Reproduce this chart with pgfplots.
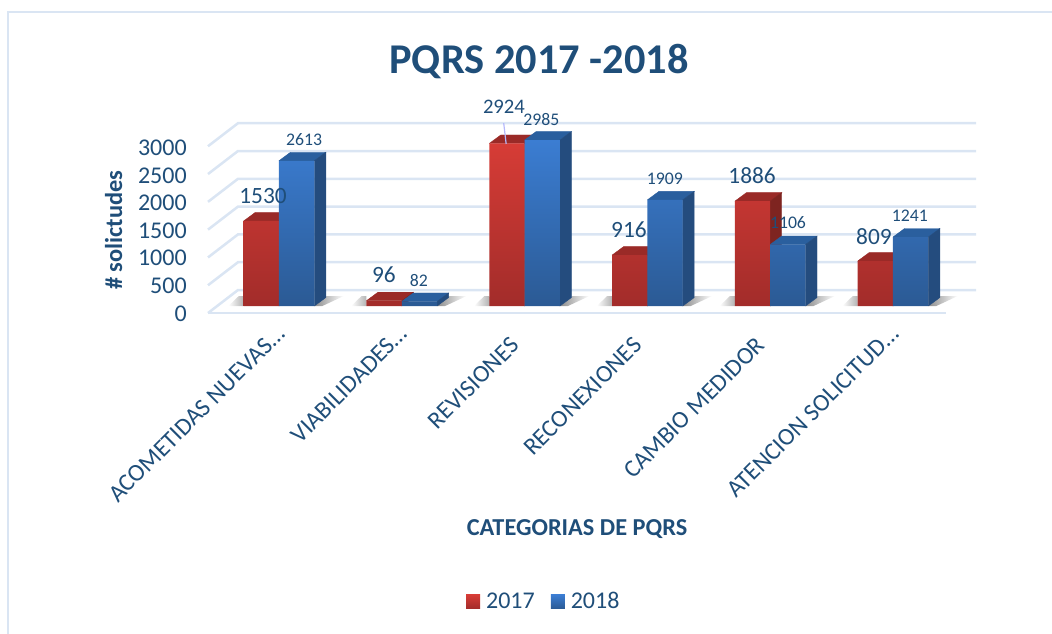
\documentclass[border=0pt]{standalone}
\usepackage{fontspec}
\setmainfont{Carlito}
\usepackage{pgfplots}
\pgfplotsset{compat=1.18}
\definecolor{txt}{HTML}{1F4E79}
\definecolor{gridc}{HTML}{DAE5F3}
\definecolor{redtop}{HTML}{D63C36}
\definecolor{redbot}{HTML}{A22C2A}
\definecolor{redcap}{HTML}{9A2A27}
\definecolor{redside}{HTML}{7E2420}
\definecolor{blutop}{HTML}{3B7DD2}
\definecolor{blubot}{HTML}{2B5A94}
\definecolor{blucap}{HTML}{2A5F9E}
\definecolor{bluside}{HTML}{244C7E}

% depth of the fake 3d bars, in axis units
\newcommand{\bw}{0.2875}
\newcommand{\dpx}{0.094}
\newcommand{\dpv}{153}

% top and side face of a bar: left edge, value, cap colour, side colour
\newcommand{\barfaces}[4]{%
  \pgfmathsetmacro\xa{#1}\pgfmathsetmacro\xb{#1+\bw}%
  \pgfmathsetmacro\xc{#1+\bw+\dpx}\pgfmathsetmacro\xd{#1+\dpx}%
  \pgfmathsetmacro\vt{#2+\dpv}%
  \edef\tmp{\noexpand\addplot[fill=#3,draw=#3,line width=0.3pt,forget plot] coordinates
    {(\xa,#2) (\xb,#2) (\xc,\vt) (\xd,\vt) (\xa,#2)};
    \noexpand\addplot[fill=#4,draw=#4,line width=0.3pt,forget plot] coordinates
    {(\xb,0) (\xc,\dpv) (\xc,\vt) (\xb,#2) (\xb,0)};}%
  \tmp}

% soft floor shadow beside one bar group, centre given
\newcommand{\floorshadow}[1]{%
  \pgfmathsetmacro\xa{#1+\bw}\pgfmathsetmacro\xb{#1+\bw+0.065}%
  \pgfmathsetmacro\xc{#1+\bw+0.24}\pgfmathsetmacro\xd{#1+\bw+0.1}%
  \pgfmathsetmacro\xe{#1-\bw-0.125}\pgfmathsetmacro\xf{#1-\bw-0.04}%
  \pgfmathsetmacro\xg{#1-\bw}%
  \edef\tmp{\noexpand\addplot[left color=black!45,right color=white,draw=none,forget plot] coordinates
    {(\xa,0) (\xb,0) (\xc,180) (\xd,180) (\xa,0)};
    \noexpand\addplot[left color=white,right color=black!30,draw=none,forget plot] coordinates
    {(\xe,0) (\xg,0) (\xg,180) (\xf,180) (\xe,0)};}%
  \tmp}

% one wall grid line: value at the front edge, value on the back wall
\newcommand{\wall}[2]{%
  \addplot[gridc,line width=1.9pt,forget plot] coordinates
    {(-0.578,#1) (-0.334,#2) (5.676,#2)};}

\begin{document}
\begin{tikzpicture}
\useasboundingbox (0,0) rectangle (789pt,475.5pt);
\draw[gridc,line width=1.5pt] (6pt,0pt) -- (6pt,466.5pt) -- (789pt,466.5pt);
\begin{axis}[
  at={(156pt,240.5pt)}, anchor=south west,
  scale only axis, width=576pt, height=142.7pt,
  xmin=-0.578, xmax=5.676, ymin=-131, ymax=3291,
  clip=false,
  axis line style={draw=none}, tick style={draw=none},
  font=\fontsize{18}{20}\selectfont, text=txt,
  ytick={-131,364.5,860,1355.5,1851,2346.5,2842},
  yticklabels={0,500,1000,1500,2000,2500,3000},
  y tick label style={inner sep=0pt,xshift=-15.75pt,text=txt},
  xtick={0,1,2,3,4,5},
  xticklabels={ACOMETIDAS NUEVAS…,VIABILIDADES…,REVISIONES\kern12pt,RECONEXIONES\kern12pt,CAMBIO MEDIDOR\kern12pt,ATENCION SOLICITUD…},
  x tick label style={rotate=45,anchor=north east,inner sep=0pt,yshift=-3.5pt,xshift=-8pt,
    font=\fontsize{18.3}{20}\selectfont,text=txt},
  title={\textbf{PQRS 2017 -2018}},
  title style={at={(axis description cs:0.431,1.279)},anchor=center,
    font=\fontsize{31.8}{36}\selectfont,text=txt},
  xlabel={\textbf{CATEGORIAS DE PQRS}},
  x label style={at={(axis description cs:0.4805,-1.1316)},anchor=center,
    font=\fontsize{18.25}{20}\selectfont,text=txt},
  ylabel={\textbf{\# solictudes}},
  y label style={at={(axis description cs:-0.123,0.437)},anchor=center,
    font=\fontsize{18.3}{20}\selectfont,text=txt},
  legend style={at={(axis description cs:0.4376,-1.516)},anchor=center,draw=none,fill=none,
    legend columns=2,font=\fontsize{18}{20}\selectfont,text=txt,
    /tikz/every odd column/.append style={column sep=2.5pt},
    /tikz/every even column/.append style={column sep=10pt}},
]
% walls and floor
\wall{-126}{288}
\wall{374}{788}
\wall{874}{1288}
\wall{1374}{1788}
\wall{1874}{2288}
\wall{2374}{2788}
\wall{2874}{3288}
\addplot[gridc,line width=1.9pt,forget plot] coordinates {(-0.578,-126) (5.43,-126)};

\floorshadow{0}
\floorshadow{1}
\floorshadow{2}
\floorshadow{3}
\floorshadow{4}
\floorshadow{5}

% 2017
\barfaces{-0.2875}{1530}{redcap}{redside}
\barfaces{0.7125}{96}{redcap}{redside}
\barfaces{1.7125}{2924}{redcap}{redside}
\barfaces{2.7125}{916}{redcap}{redside}
\barfaces{3.7125}{1886}{redcap}{redside}
\barfaces{4.7125}{809}{redcap}{redside}
\addplot[ybar,bar width=0.2875,bar shift=-0.14375,draw=none,top color=redtop,bottom color=redbot,
  legend image code/.code={\fill[top color=redtop,bottom color=redbot] (0pt,-5.25pt) rectangle (10.5pt,5.25pt);}]
  coordinates {(0,1530) (1,96) (2,2924) (3,916) (4,1886) (5,809)};
\addlegendentry{2017}

% 2018
\barfaces{0}{2613}{blucap}{bluside}
\barfaces{1}{82}{blucap}{bluside}
\barfaces{2}{2985}{blucap}{bluside}
\barfaces{3}{1909}{blucap}{bluside}
\barfaces{4}{1106}{blucap}{bluside}
\barfaces{5}{1241}{blucap}{bluside}
\addplot[ybar,bar width=0.2875,bar shift=0.14375,draw=none,top color=blutop,bottom color=blubot,
  legend image code/.code={\fill[top color=blutop,bottom color=blubot] (0pt,-5.25pt) rectangle (10.5pt,5.25pt);}]
  coordinates {(0,2613) (1,82) (2,2985) (3,1909) (4,1106) (5,1241)};
\addlegendentry{2018}

% leader line of 2924
\addplot[gridc!60!blue!60!white,line width=0.9pt,forget plot] coordinates {(1.83,3290) (1.85,2915)};

% data labels, moved by hand in the original
\addplot[draw=none,forget plot,point meta=explicit symbolic,nodes near coords,
  nodes near coords align=center,
  every node near coord/.append style={anchor=center,text=txt,inner sep=0pt,font=\fontsize{17.5}{20}\selectfont}]
  coordinates {(-0.130,1978)[1530] (0.855,558)[96] (2.850,1367)[916] (3.853,2338)[1886] (4.845,1241)[809]};
\addplot[draw=none,forget plot,point meta=explicit symbolic,nodes near coords,
  nodes near coords align=center,
  every node near coord/.append style={anchor=center,text=txt,inner sep=0pt,font=\fontsize{15.5}{18}\selectfont}]
  coordinates {(1.832,3579)[2924]};
\addplot[draw=none,forget plot,point meta=explicit symbolic,nodes near coords,
  nodes near coords align=center,
  every node near coord/.append style={anchor=center,text=txt,inner sep=0pt,font=\fontsize{13.3}{16}\selectfont}]
  coordinates {(0.204,2986)[2613] (1.140,468)[82] (2.137,3363)[2985] (3.143,2284)[1909] (4.145,1493)[1106] (5.138,1619)[1241]};
\end{axis}
\end{tikzpicture}
\end{document}
